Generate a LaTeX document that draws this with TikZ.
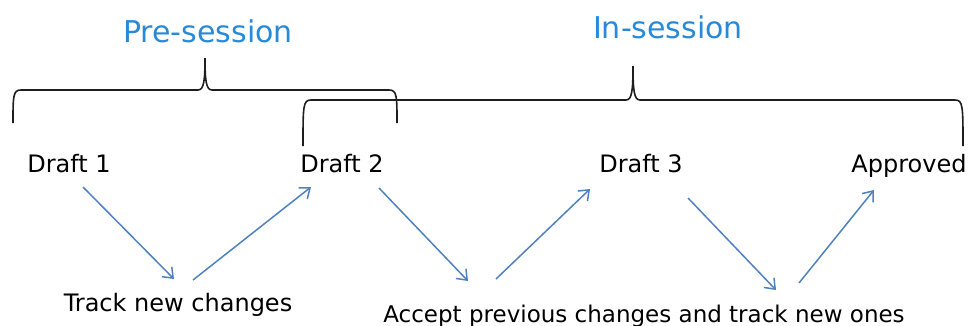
\documentclass[tikz,border=0pt]{standalone}
\usepackage{fontspec}
\setmainfont{DejaVu Sans}
\usetikzlibrary{arrows.meta}
\definecolor{phaseblue}{RGB}{40,137,214}
\definecolor{flowblue}{RGB}{79,129,189}
\definecolor{bracegray}{RGB}{30,30,30}
\begin{document}
\begin{tikzpicture}[x=1pt,y=-1pt,
  phase/.style={text=phaseblue,inner sep=0pt,anchor=base,font=\fontsize{30}{34}\selectfont},
  stage/.style={text=black,inner sep=0pt,anchor=base,font=\fontsize{24}{28}\selectfont},
  flow/.style={draw=flowblue,line width=1.5pt,-{Straight Barb[length=9pt,width=14pt,line width=1.5pt]}},
  bracket/.style={draw=bracegray,line width=1.6pt}]
\useasboundingbox (0,0) rectangle (970,325);

% phase titles
\node[phase] (pre) at (208,42) {Pre-session};
\node[phase] (in)  at (668,38) {In-session};

% braces grouping the drafts
\draw[bracket] (13,123) .. controls (13,96) and (13,90) .. (21,90) -- (198,90)
  .. controls (204,90) and (205,80) .. (205,58)
  .. controls (205,80) and (206,90) .. (212,90) -- (389,90)
  .. controls (397,90) and (397,96) .. (397,123);
\draw[bracket] (303,146) .. controls (303,106) and (303,100) .. (311,100) -- (626,100)
  .. controls (632,100) and (633,90) .. (633,66)
  .. controls (633,90) and (634,100) .. (640,100) -- (955,100)
  .. controls (963,100) and (963,106) .. (963,146);

% document stages
\node[stage] (d1) at (69,172) {Draft 1};
\node[stage] (d2) at (342,172) {Draft 2};
\node[stage] (d3) at (641,172) {Draft 3};
\node[stage] (ap) at (909,172) {Approved};

% actions between stages
\node[stage] (track)  at (178,311) {Track new changes};
\node[stage,font=\fontsize{23}{27}\selectfont] (accept) at (644,322) {Accept previous changes and track new ones};

% arrow end points
\coordinate (a1s) at (83,187);  \coordinate (a1e) at (174,279);
\coordinate (a2s) at (193,280); \coordinate (a2e) at (311,187);
\coordinate (a3s) at (379,188); \coordinate (a3e) at (468,281);
\coordinate (a4s) at (496,279); \coordinate (a4e) at (590,189);
\coordinate (a5s) at (688,198); \coordinate (a5e) at (776,290);
\coordinate (a6s) at (799,283); \coordinate (a6e) at (874,190);

\draw[flow] (a1s) -- (a1e);
\draw[flow] (a2s) -- (a2e);
\draw[flow] (a3s) -- (a3e);
\draw[flow] (a4s) -- (a4e);
\draw[flow] (a5s) -- (a5e);
\draw[flow] (a6s) -- (a6e);
\end{tikzpicture}
\end{document}
